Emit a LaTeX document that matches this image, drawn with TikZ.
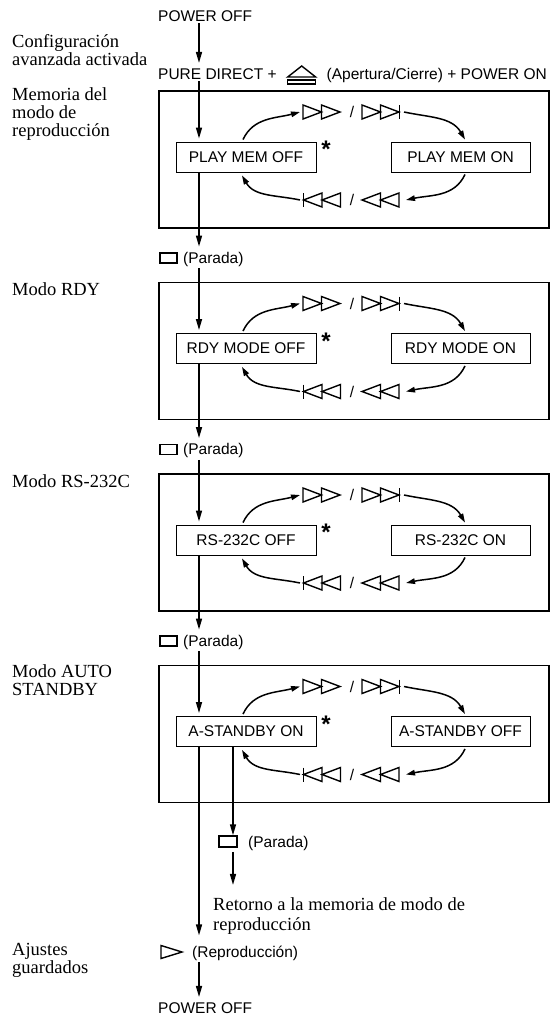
\documentclass[tikz,border=0pt]{standalone}
\usepackage{fontspec}
\setmainfont{Liberation Serif}
\newfontfamily\helv{Liberation Sans}
\usetikzlibrary{arrows.meta,calc}
\tikzset{
  sanslbl/.style={font=\helv\fontsize{15.5}{17}\selectfont, inner sep=2pt},
  seriflbl/.style={font=\fontsize{18.5}{18}\selectfont, inner sep=0pt, align=left},
  statebox/.style={draw, line width=0.9pt, minimum width=140pt, minimum height=30pt, inner sep=0pt, font=\helv\fontsize{15.5}{17}\selectfont},
  framebox/.style={draw, line width=1.8pt, anchor=north west, minimum width=390pt, minimum height=137pt, inner sep=0pt},
  stopsym/.style={draw, line width=1.5pt, minimum width=17pt, minimum height=10pt, inner sep=0pt},
  conn/.style={line width=1.5pt, -{Triangle[length=11pt,width=6pt]}},
  arcconn/.style={line width=1.5pt, -{Triangle[length=9pt,width=5.5pt]}},
  sym/.style={line width=1.4pt, line join=miter},
  star/.style={font=\helv\bfseries\fontsize{24}{24}\selectfont, inner sep=0pt, anchor=north},
}
\newcommand\rtri[2]{\draw[sym] (#1,#2+7) -- (#1+18.5,#2) -- (#1,#2-7) -- cycle;}
\newcommand\ltri[2]{\draw[sym] (#1+18.5,#2+7) -- (#1,#2) -- (#1+18.5,#2-7) -- cycle;}
\begin{document}
\begin{tikzpicture}[x=1pt,y=1pt]
\useasboundingbox (0,0) rectangle (551,-1017);
\coordinate (col) at (199,0);
\coordinate (col2) at (233,0);

% top
\node[sanslbl, anchor=base west] (po1) at (156,-21) {POWER OFF};
\node[sanslbl, anchor=base west] (pd) at (156,-79) {PURE DIRECT +};
\node[sanslbl, anchor=base east] (ap) at (549,-79) {(Apertura/Cierre) + POWER ON};
\coordinate (ej) at ($(pd.base east)!0.5!(ap.base west)$);
\draw[sym] ($(ej)+(-14,2)$) -- ($(ej)+(0,13)$) -- ($(ej)+(14,2)$) -- cycle;
\draw[sym] ($(ej)+(-14,-1)$) rectangle ($(ej)+(14,-5)$);
\draw[conn] (po1.south -| col) -- ([yshift=3pt]pd.north -| col);

% left labels (base = last line)
\node[seriflbl, anchor=base west] (lab0) at (12,-65) {Configuración\\avanzada activada};
\node[seriflbl, anchor=base west] (lab1) at (12,-136) {Memoria del\\modo de\\reproducción};
\node[seriflbl, anchor=base west] (lab2) at (12,-295) {Modo RDY};
\node[seriflbl, anchor=base west] (lab3) at (12,-487) {Modo RS-232C};
\node[seriflbl, anchor=base west] (lab4) at (12,-695) {Modo AUTO\\STANDBY};
\node[seriflbl, anchor=base west] (lab5) at (12,-973) {Ajustes\\guardados};

\foreach \k/\lt/\rt in {0/PLAY MEM OFF/PLAY MEM ON, 1/RDY MODE OFF/RDY MODE ON, 2/RS-232C OFF/RS-232C ON, 3/A-STANDBY ON/A-STANDBY OFF} {
  \pgfmathsetmacro\T{-(90+191.5*\k)}
  \pgfmathsetmacro\U{\T-22}
  \pgfmathsetmacro\D{\T-110}
  \node[framebox] (F\k) at (158,\T) {};
  \node[statebox] (L\k) at (246,\T-67) {\lt};
  \node[statebox, minimum width=139pt] (R\k) at (460.5,\T-67) {\rt};
  \node[star] (S\k) at (326,\T-51) {*};
  % upper symbols
  \rtri{303}{\U} \rtri{321.5}{\U}
  \node[sanslbl] (us\k) at (352,\U) {/};
  \rtri{362}{\U} \rtri{380.5}{\U}
  \draw[sym] (399.5,\U+7) -- (399.5,\U-7);
  % lower symbols
  \draw[sym] (303.5,\D+7) -- (303.5,\D-7);
  \ltri{303.5}{\D} \ltri{322}{\D}
  \node[sanslbl] (ds\k) at (352,\D) {/};
  \ltri{362}{\D} \ltri{380.5}{\D}
  \coordinate (ua\k) at (300,\U);
  \coordinate (ub\k) at (404,\U);
  \coordinate (lb\k) at (406,\D);
  \coordinate (la\k) at (300,\D);
  \draw[arcconn] ([xshift=-3pt,yshift=2pt]L\k.north) to[out=65,in=195] (ua\k);
  \draw[arcconn] (ub\k) to[out=-12,in=120] ([xshift=4.5pt,yshift=2pt]R\k.north);
  \draw[arcconn] ([xshift=4.5pt,yshift=-2pt]R\k.south) to[out=-115,in=12] (lb\k);
  \draw[arcconn] (la\k) to[out=168,in=-60] ([xshift=-4pt,yshift=-3pt]L\k.south);
}
\foreach \k in {0,1,2} {
  \pgfmathsetmacro\T{-(90+191.5*\k)}
  \node[stopsym] (Q\k) at (168.5,\T-168) {};
  \node[sanslbl, anchor=base west] (P\k) at (181,\T-173) {(Parada)};
}
\draw[conn, shorten >=3pt] (pd.south -| col) -- (L0.north -| col);
\foreach \k in {0,1,2} {
  \pgfmathtruncatemacro\kn{\k+1}
  \draw[conn] (L\k.south -| col) -- ([yshift=3pt]P\k.north -| col);
  \draw[conn, shorten >=3pt] (P\k.south -| col) -- (L\kn.north -| col);
}

% bottom part
\node[stopsym, minimum width=18pt, minimum height=11pt] (Qb) at (228,-841.5) {};
\node[sanslbl, anchor=base west] (Pb) at (246,-847) {(Parada)};
\node[seriflbl, anchor=base west, font=\fontsize{18.5}{20}\selectfont] (ret) at (213,-930) {Retorno a la memoria de modo de\\reproducción};
\draw[conn] (L3.south -| col2) -- (Qb.north -| col2);
\draw[conn] ([yshift=-4pt]Qb.south -| col2) -- ([yshift=12pt]ret.north -| col2);

\draw[sym] (161,-945.5) -- (182,-952) -- (161,-958.5) -- cycle;
\node[sanslbl, anchor=base west] (rep) at (190,-957) {(Reproducción)};
\draw[conn] (L3.south -| col) -- ([yshift=8pt]rep.north -| col);
\node[sanslbl, anchor=base west] (po2) at (156,-1013) {POWER OFF};
\draw[conn, shorten >=3pt] (rep.south -| col) -- (po2.north -| col);
\end{tikzpicture}
\end{document}
